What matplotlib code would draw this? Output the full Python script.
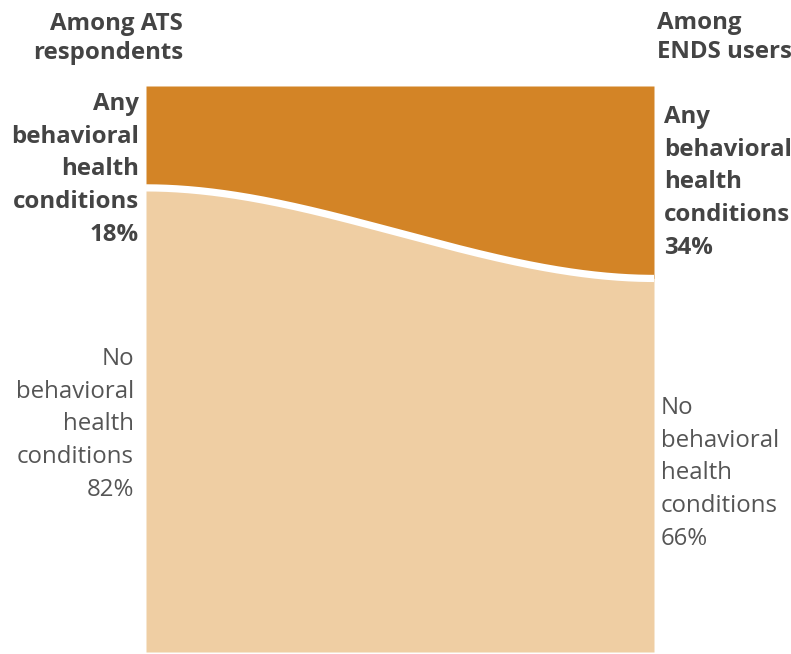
import numpy as np
import matplotlib.pyplot as plt

plt.rcParams['font.family'] = ['Open Sans', 'DejaVu Sans']

groups = ["Among ATS\nrespondents", "Among\nENDS users"]
any_bh = [18, 34]
no_bh = [82, 66]
dark = '#D38426'
light = '#EFCEA3'
txt = '#444444'

fig = plt.figure(figsize=(7.91, 6.54), dpi=100)
ax = fig.add_axes([146 / 791, 2 / 654, 508 / 791, 566 / 654])

t = np.linspace(0, 1, 300)
s = 3 * t ** 2 - 2 * t ** 3
boundary = no_bh[0] + (no_bh[1] - no_bh[0]) * s

ax.fill_between(t, boundary, 100, color=dark, lw=0)
ax.fill_between(t, 0, boundary, color=light, lw=0)
ax.plot(t, boundary, color='white', lw=5.2, solid_capstyle='butt')
ax.set_xlim(0, 1)
ax.set_ylim(0, 100)
ax.axis('off')

fs = 17.3
# headers
fig.text(183 / 791, 1 - 12 / 654, groups[0], ha='right', va='top', fontsize=fs,
         fontweight='bold', color=txt, linespacing=1.27)
fig.text(657 / 791, 1 - 11 / 654, groups[1], ha='left', va='top', fontsize=fs,
         fontweight='bold', color=txt, linespacing=1.27)

# segment labels
fig.text(139 / 791, 1 - 92 / 654, f"Any\nbehavioral\nhealth\nconditions\n{any_bh[0]}%",
         ha='right', va='top', fontsize=fs, fontweight='bold', color=txt, linespacing=1.48)
fig.text(664 / 791, 1 - 105 / 654, f"Any\nbehavioral\nhealth\nconditions\n{any_bh[1]}%",
         ha='left', va='top', fontsize=fs, fontweight='bold', color=txt, linespacing=1.48)
fig.text(134 / 791, 1 - 347 / 654, f"No\nbehavioral\nhealth\nconditions\n{no_bh[0]}%",
         ha='right', va='top', fontsize=fs, color='#555555', linespacing=1.48)
fig.text(661 / 791, 1 - 396 / 654, f"No\nbehavioral\nhealth\nconditions\n{no_bh[1]}%",
         ha='left', va='top', fontsize=fs, color='#555555', linespacing=1.48)

fig.savefig('out.png', dpi=100)
